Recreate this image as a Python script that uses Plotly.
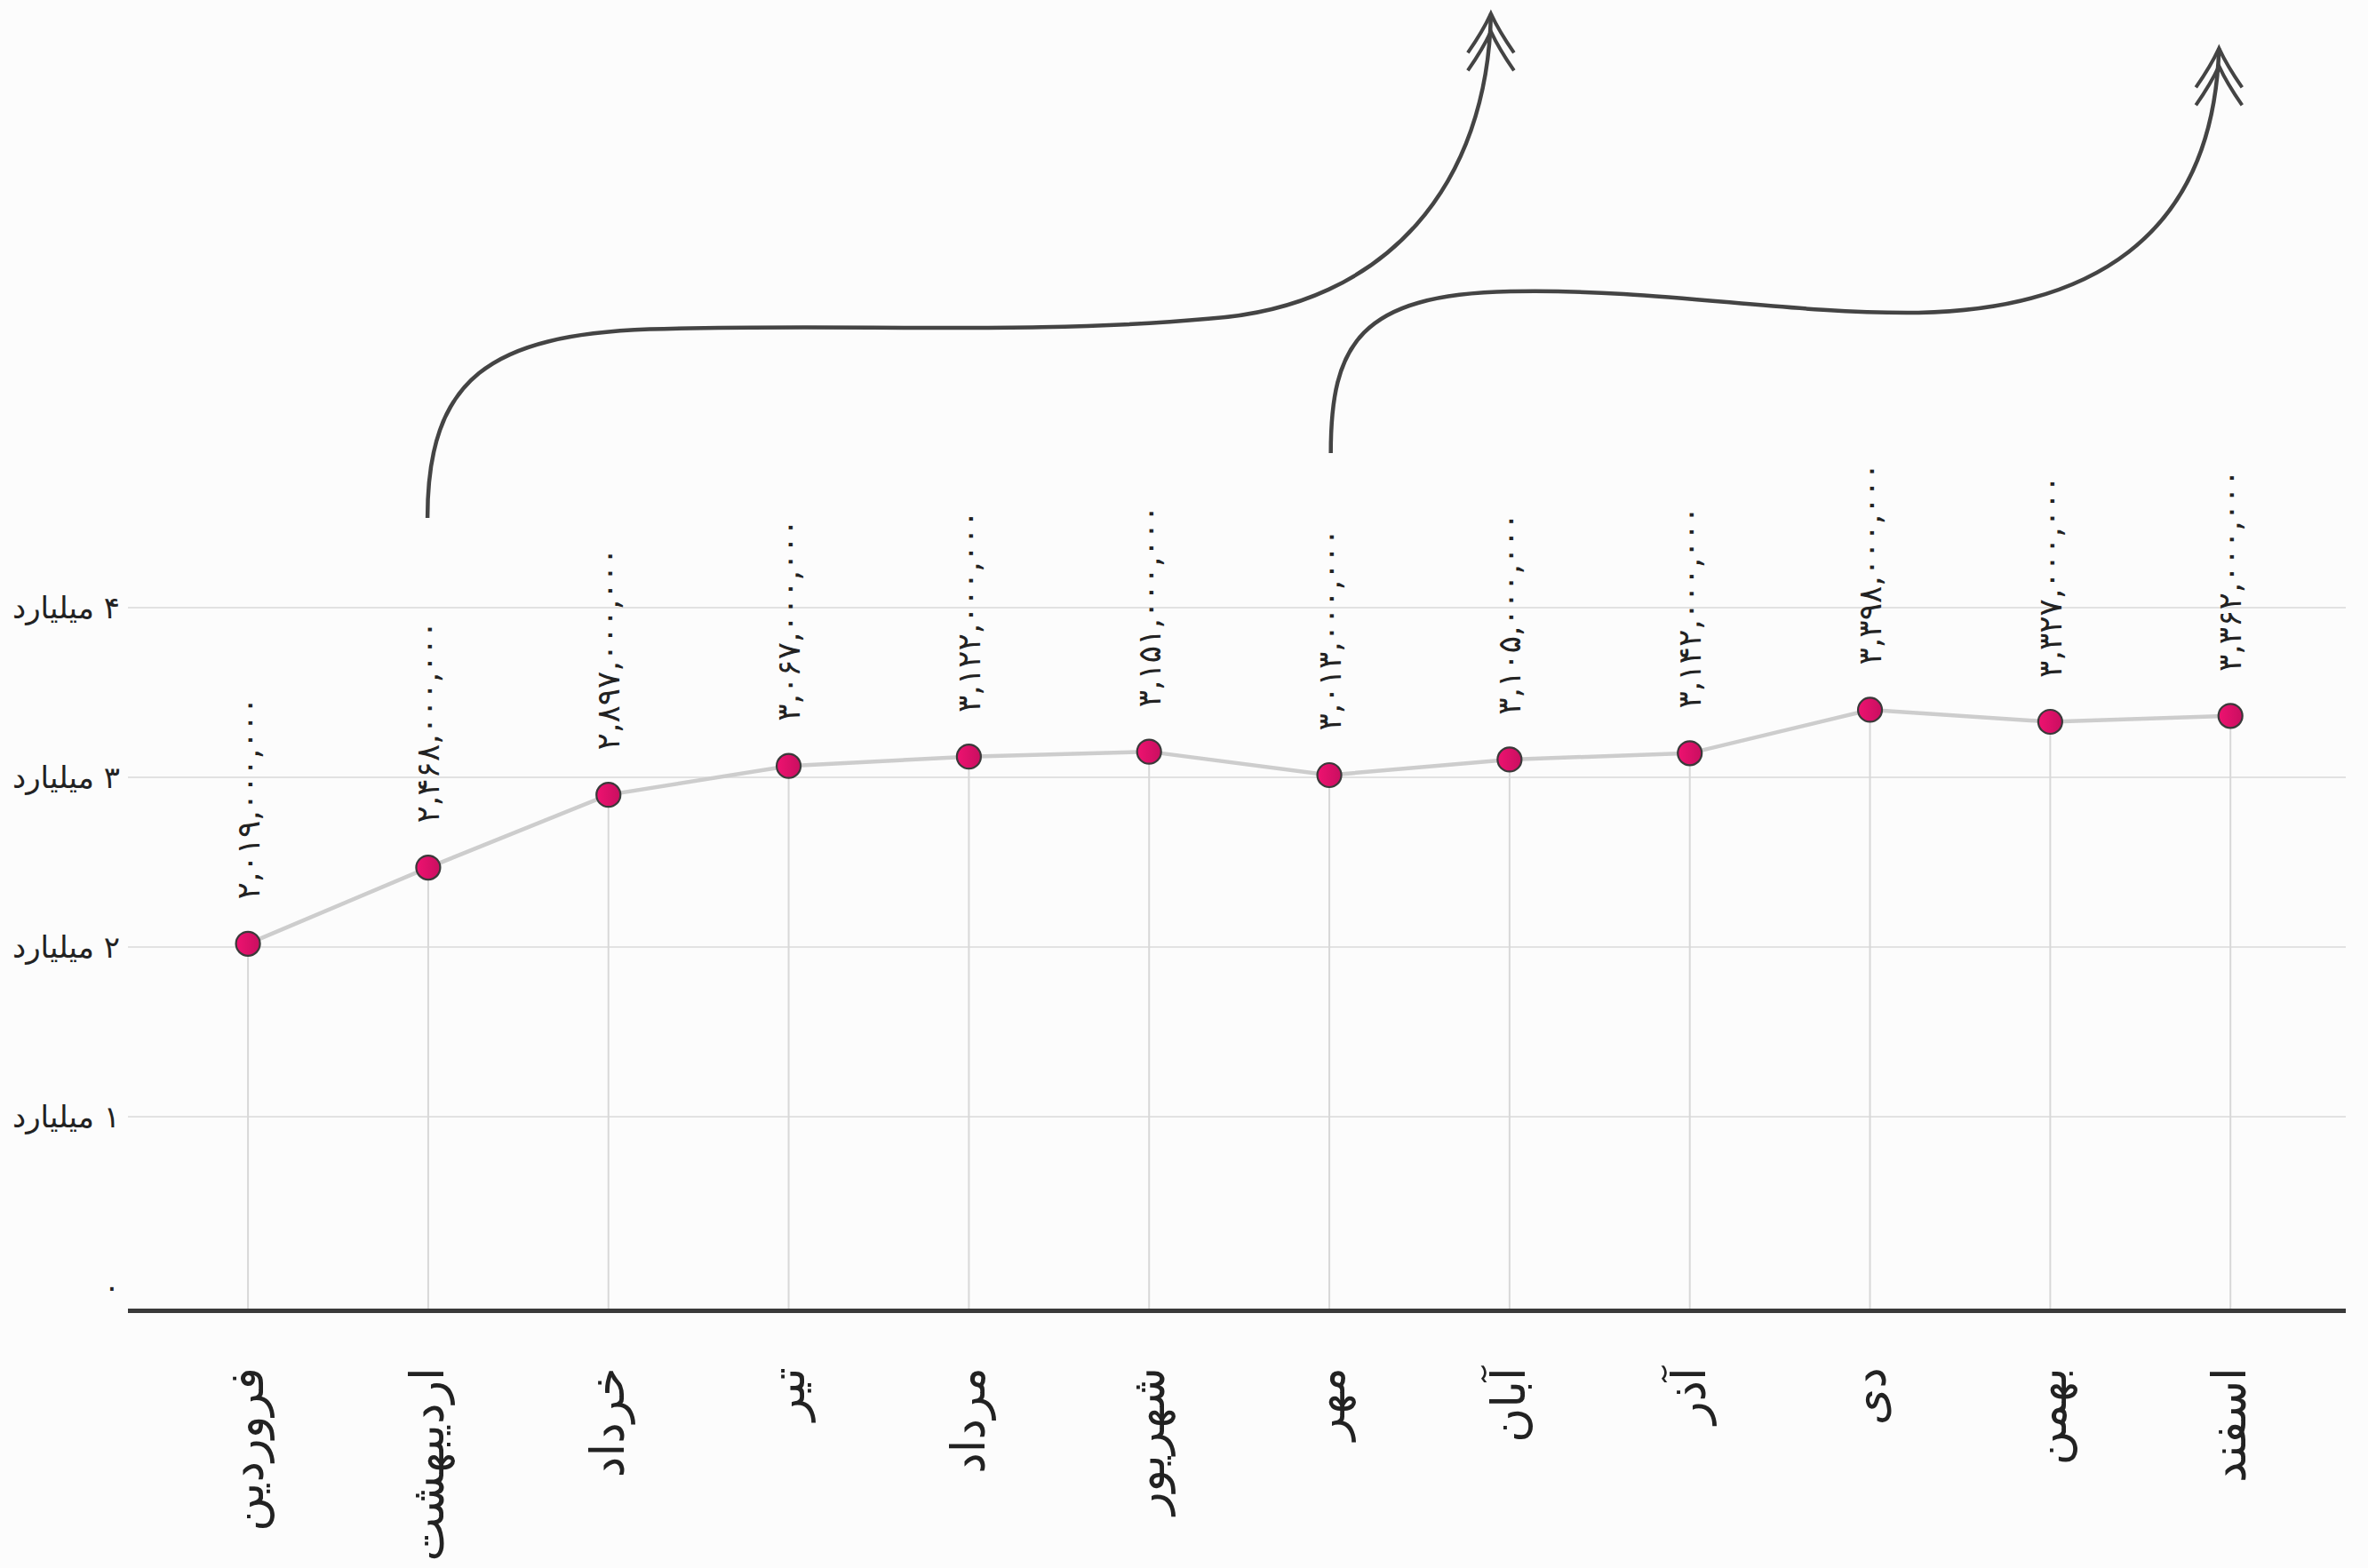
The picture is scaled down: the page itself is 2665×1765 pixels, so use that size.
import plotly.graph_objects as go

# ---------------- data ----------------
months = ["فروردین", "اردیبهشت", "خرداد", "تیر", "مرداد", "شهریور",
          "مهر", "آبان", "آذر", "دی", "بهمن", "اسفند"]
sales = [2019000000, 2468000000, 2897000000, 3067000000, 3122000000, 3151000000,
         3013000000, 3105000000, 3142000000, 3398000000, 3327000000, 3362000000]
y_tick_values = [0, 1, 2, 3, 4]
y_tick_labels = ["۰", "۱ میلیارد", "۲ میلیارد", "۳ میلیارد", "۴ میلیارد"]

# ---------------- layout constants ----------------
W, H = 2665, 1765
ML, MR, MT, MB = 144, 25, 0, 292
PW, PH = W - ML - MR, H - MT - MB
Y_MIN, Y_MAX = -0.131, 7.581
X_MIN, X_MAX = -0.666, 11.64
FONT = "DejaVu Sans"
RLM = "\u200f"

fa_digits = str.maketrans("0123456789", "۰۱۲۳۴۵۶۷۸۹")


def fa_num(n):
    return f"{n:,}".translate(fa_digits)


vals = [v / 1e9 for v in sales]
xs = list(range(len(months)))

fig = go.Figure()

# vertical drop lines from each point to the axis
fig.add_trace(go.Scatter(
    x=xs, y=vals, mode="markers", marker=dict(size=1, opacity=0),
    error_y=dict(type="data", symmetric=False, array=[0] * len(vals),
                 arrayminus=[v - Y_MIN for v in vals],
                 color="#d8d8d8", thickness=2, width=0),
    hoverinfo="skip", showlegend=False))

# connecting line
fig.add_trace(go.Scatter(
    x=xs, y=vals, mode="lines", line=dict(color="#cdcdcd", width=4.5),
    hoverinfo="skip", showlegend=False))

# markers
fig.add_trace(go.Scatter(
    x=xs, y=vals, mode="markers",
    marker=dict(size=27, color="#ee1270",
                gradient=dict(type="horizontal", color="#c90f60"),
                line=dict(color="#3a3a3a", width=2.2)),
    showlegend=False))

# value labels
for xi, v, s in zip(xs, vals, sales):
    fig.add_annotation(x=xi, y=v, text=fa_num(s), textangle=-90,
                       showarrow=False, yanchor="bottom", xanchor="center",
                       yshift=48, font=dict(family=FONT, size=36, color="#222222"))

shapes = []
# horizontal gridlines (no line at zero: the axis line sits below)
for t in y_tick_values[1:]:
    shapes.append(dict(type="line", xref="paper", yref="y", x0=0, x1=1, y0=t, y1=t,
                       line=dict(color="#dadada", width=1.5), layer="below"))


# decorative curved arrows (pixel coordinates converted to paper)
def P(px, py):
    return f"{(px - ML) / PW:.5f},{(MT + PH - py) / PH:.5f}"


def curve(pts):
    (x0, y0) = pts[0]
    d = f"M{P(x0, y0)}"
    rest = pts[1:]
    for i in range(0, len(rest), 3):
        a, b, c = rest[i], rest[i + 1], rest[i + 2]
        d += f" C{P(*a)} {P(*b)} {P(*c)}"
    return d


def head(tx, ty, w=26, h=44, gap=20):
    d = ""
    for k in range(2):
        yy = ty + k * gap
        d += (f" M{P(tx - w, yy + h)} Q{P(tx - w * 0.35, yy + h * 0.45)} {P(tx, yy)}"
              f" Q{P(tx + w * 0.35, yy + h * 0.45)} {P(tx + w, yy + h)}")
    return d


k = 1.7
c1 = [(283, 343), (283, 250), (325, 222), (430, 218),
      (560, 214), (680, 222), (800, 211),
      (920, 203), (985, 120), (987, 9)]
c2 = [(881, 300), (881, 228), (900, 195), (1000, 193),
      (1100, 191), (1180, 208), (1270, 207),
      (1380, 205), (1465, 160), (1469, 32)]
for c in (c1, c2):
    pts = [(px * k, py * k) for px, py in c]
    shapes.append(dict(type="path", xref="paper", yref="paper", path=curve(pts),
                       line=dict(color="#444444", width=4.5), layer="above"))
    tx, ty = pts[-1]
    shapes.append(dict(type="path", xref="paper", yref="paper", path=head(tx, ty),
                       line=dict(color="#444444", width=4), layer="above"))

fig.update_layout(
    width=W, height=H,
    margin=dict(l=ML, r=MR, t=MT, b=MB, pad=0),
    paper_bgcolor="#fcfcfc", plot_bgcolor="rgba(0,0,0,0)",
    shapes=shapes,
    xaxis=dict(range=[X_MIN, X_MAX], tickvals=xs, ticktext=months, tickangle=-90,
               showgrid=False, zeroline=False, showline=True,
               linecolor="#3a3a3a", linewidth=5, ticks="",
               ticklabelstandoff=40,
               tickfont=dict(family=FONT, size=53, color="#222222")),
    yaxis=dict(range=[Y_MIN, Y_MAX], tickvals=y_tick_values,
               ticktext=[RLM + t for t in y_tick_labels],
               showgrid=False, zeroline=False, showline=False, ticks="",
               ticklabelstandoff=8,
               tickfont=dict(family=FONT, size=34, color="#222222")),
)

fig.write_html("out.html", config={"displayModeBar": False},
               post_script="document.body.style.margin='0';document.body.style.overflow='hidden';")
